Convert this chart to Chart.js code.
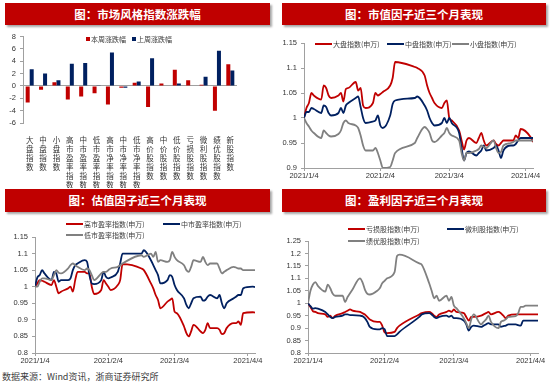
<!DOCTYPE html>
<html>
<head>
<meta charset="utf-8">
<script src="https://cdn.jsdelivr.net/npm/chart.js@4.4.1/dist/chart.umd.min.js"></script>
<style>
  body { margin: 0; width: 550px; height: 382px; background: #fff; position: relative; overflow: hidden; }
  .banner { position: absolute; height: 22px; background: #C00000; color: #fff; text-align: center;
            font: bold 11.5px 'Noto Sans CJK SC', sans-serif; line-height: 22px; box-shadow: 2px 2px 2px rgba(0,0,0,.35); }
  canvas { position: absolute; }
  .lg { position: absolute; height: 9px; display: flex; align-items: center; white-space: nowrap;
        font: 7px 'Noto Sans CJK SC', sans-serif; color: #404040; }
  .lg i { display: inline-block; margin-right: 1px; }
  .src { position: absolute; left: 2px; top: 370px; font: 9px 'Noto Sans CJK SC', sans-serif; color: #404040; }
</style>
</head>
<body>
<div class="banner" style="left:5px;top:3px;width:265px">图：市场风格指数涨跌幅</div>
<div class="banner" style="left:282px;top:3px;width:264px">图：市值因子近三个月表现</div>
<div class="banner" style="left:5px;top:189px;width:265px;height:23px">图：估值因子近三个月表现</div>
<div class="banner" style="left:282px;top:189px;width:264px;height:23px">图：盈利因子近三个月表现</div>

<canvas id="barChart" width="275" height="160" style="left:0;top:28px"></canvas>
<canvas id="capChart" width="275" height="155" style="left:275px;top:30px"></canvas>
<canvas id="peChart" width="275" height="155" style="left:0;top:215px"></canvas>
<canvas id="profitChart" width="275" height="155" style="left:275px;top:215px"></canvas>

<div class="src">数据来源：Wind资讯，浙商证券研究所</div>

<script>
// ── Data ────────────────────────────────────────────────────────────────
const styleNames = ['大盘指数', '中盘指数', '小盘指数', '高市盈率指数', '中市盈率指数', '低市盈率指数',
                    '高市净率指数', '中市净率指数', '低市净率指数', '高价股指数', '中价股指数', '低价股指数',
                    '亏损股指数', '微利股指数', '绩优股指数', '新股指数'];
const weekNames = ['本周涨跌幅', '上周涨跌幅'];
const thisWeek = [-2.7, -0.6, 0.6, -2.2, -1.7, -1.2, -3.0, -0.3, 0.5, -3.4, 0.4, 2.6, 0.9, 0.2, -4.0, 3.5];
const lastWeek = [2.7, 2.0, 0.9, 3.6, 3.7, 0.1, 5.4, -0.3, 0.7, 4.5, -0.1, 0.4, -0.1, 1.5, 5.7, 2.5];

// trading days, 2021
const tradeDates = ['1/4','1/5','1/6','1/7','1/8','1/11','1/12','1/13','1/14','1/15','1/18','1/19','1/20','1/21','1/22',
  '1/25','1/26','1/27','1/28','1/29','2/1','2/2','2/3','2/4','2/5','2/8','2/9','2/10','2/18','2/19',
  '2/22','2/23','2/24','2/25','2/26','3/1','3/2','3/3','3/4','3/5','3/8','3/9','3/10','3/11','3/12',
  '3/15','3/16','3/17','3/18','3/19','3/22','3/23','3/24','3/25','3/26','3/29','3/30','3/31','4/1','4/2','4/6','4/7'];
const tickDates = ['1/4', '2/4', '3/4', '4/4'];

const capNames = ['大盘指数(申万)', '中盘指数(申万)', '小盘指数(申万)'];
const bigCap = [1.000,1.02,1.03,1.05,1.045, 1.037,1.065,1.06,1.045,1.04, 1.045,1.05,1.033,1.058,1.06,
  1.072,1.055,1.06,1.025,1.02, 1.03,1.05,1.045,1.048,1.052, 1.065,1.08,1.112, 1.102,1.10,
  1.085,1.065,1.05,1.04,1.03, 1.02,1.03,1.035,1.0,0.995, 0.975,0.955,0.937,0.955,0.96,
  0.95,0.96,0.97,0.955,0.945, 0.955,0.948,0.945,0.95,0.955, 0.955,0.955,0.965, 0.96,0.978, 0.962,0.952];
const midCap = [1.0,1.012,1.012,1.02,1.018, 1.01,1.025,1.022,1.01,1.005, 1.01,1.02,1.01,1.025,1.03,
  1.04,1.043,1.022,1.0,0.99, 0.993,0.995,1.005,0.985,0.98, 1.005,1.028,1.035, 1.04,1.043,
  1.025,1.015,1.0,0.99,0.985, 0.99,1.0,0.99,1.0,0.99, 0.97,0.94,0.915,0.93,0.933,
  0.925,0.93,0.935,0.945,0.935, 0.94,0.945,0.935,0.92,0.935, 0.945,0.945,0.948, 0.955,0.96, 0.96,0.96];
const smallCap = [1.0,0.99,0.983,0.975,0.97, 0.96,0.975,0.97,0.965,0.963, 0.968,0.975,0.99,0.995,0.99,
  0.985,0.98,0.965,0.945,0.935, 0.935,0.94,0.93,0.915,0.9, 0.902,0.915,0.93, 0.95,0.96,
  0.982,0.978,0.97,0.955,0.952, 0.965,0.97,0.98,0.97,0.965, 0.955,0.93,0.915,0.93,0.93,
  0.935,0.938,0.945,0.942,0.94, 0.955,0.94,0.93,0.932,0.945, 0.95,0.952,0.955, 0.955,0.955, 0.955,0.955];

const peNames = ['高市盈率指数(申万)', '中市盈率指数(申万)', '低市盈率指数(申万)'];
const highPE = [1.0,1.01,1.02,1.018,1.015, 1.005,1.02,1.0,0.98,0.985, 0.995,1.0,0.985,1.02,1.045,
  1.045,1.04,1.04,1.0,0.978, 0.99,1.02,1.01,1.0,0.99, 1.005,1.02,1.068, 1.055,1.05,
  1.01,0.995,0.975,0.96,0.935, 0.955,0.96,0.965,0.925,0.92, 0.88,0.86,0.85,0.865,0.885,
  0.865,0.86,0.87,0.89,0.875, 0.875,0.87,0.857,0.86,0.875, 0.89,0.89,0.895, 0.885,0.92, 0.923,0.922];
const midPE = [1.0,1.028,1.035,1.05,1.04, 1.02,1.045,1.04,1.015,1.02, 1.02,1.025,1.05,1.065,1.07,
  1.08,1.075,1.035,1.01,1.008, 1.02,1.045,1.03,1.025,1.028, 1.045,1.07,1.1, 1.1,1.11,
  1.08,1.065,1.05,1.035,1.01, 1.02,1.035,1.03,1.005,0.99, 0.965,0.945,0.935,0.95,0.965,
  0.97,0.958,0.96,0.97,0.975, 0.965,0.975,0.95,0.935,0.95, 0.965,0.97,0.975, 0.975,0.995, 1.0,0.999];
const lowPE = [1.0,1.0,1.015,1.025,1.025, 1.02,1.035,1.05,1.042,1.04, 1.055,1.065,1.07,1.065,1.06,
  1.05,1.055,1.05,1.035,1.02, 1.04,1.045,1.045,1.05,1.055, 1.06,1.065,1.07, 1.095,1.09,
  1.1,1.09,1.105,1.075,1.08, 1.075,1.08,1.105,1.09,1.08, 1.065,1.05,1.045,1.06,1.08,
  1.075,1.09,1.075,1.065,1.07, 1.07,1.055,1.04,1.045,1.05, 1.06,1.058,1.055, 1.055,1.05, 1.05,1.05];

const profitNames = ['亏损股指数(申万)', '微利股指数(申万)', '绩优股指数(申万)'];
const lossIdx = [1.0,0.985,0.968,0.965,0.96, 0.955,0.945,0.95,0.94,0.95, 0.96,0.965,0.97,0.975,0.97,
  0.965,0.96,0.955,0.945,0.935, 0.925,0.925,0.91,0.882,0.88, 0.885,0.9,0.91, 0.955,0.96,
  0.965,0.96,0.95,0.945,0.955, 0.965,0.97,0.965,0.975,0.965, 0.96,0.945,0.93,0.945,0.945,
  0.95,0.955,0.96,0.965,0.955, 0.965,0.96,0.95,0.94,0.95, 0.955,0.955,0.955, 0.955,0.955, 0.955,0.955];
const microIdx = [1.0,0.988,0.978,0.98,0.978, 0.965,0.955,0.945,0.94,0.945, 0.95,0.955,0.955,0.952,0.952,
  0.95,0.948,0.94,0.925,0.905, 0.895,0.895,0.9,0.895,0.868, 0.868,0.875,0.885, 0.945,0.955,
  0.96,0.955,0.945,0.94,0.945, 0.95,0.945,0.95,0.94,0.94, 0.93,0.915,0.89,0.905,0.91,
  0.905,0.91,0.915,0.92,0.915, 0.915,0.905,0.908,0.91,0.915, 0.915,0.912,0.91, 0.93,0.93, 0.93,0.93];
const perfIdx = [1.0,1.05,1.075,1.085,1.07, 1.047,1.075,1.06,1.038,1.03, 1.03,1.005,1.025,1.04,1.055,
  1.1,1.085,1.055,1.038,1.035, 1.05,1.06,1.08,1.09,1.1, 1.125,1.19,1.195, 1.16,1.155,
  1.08,1.05,1.02,1.03,1.01, 1.03,1.01,1.025,0.99,0.98, 0.94,0.92,0.9,0.935,0.955,
  0.915,0.925,0.935,0.95,0.925, 0.9,0.925,0.93,0.935,0.945, 0.948,0.96,0.985, 0.985,0.99, 0.99,0.99];

// ── Helpers ─────────────────────────────────────────────────────────────
const RED = '#C00000', NAVY = '#002060', GREY = '#808080', AXIS = '#A0A0A0';

function dayOf(md) {
    const [m, d] = md.split('/').map(Number);
    return Math.round((Date.UTC(2021, m - 1, d) - Date.UTC(2021, 0, 4)) / 864e5);
}
const dayOffsets = tradeDates.map(dayOf);
const tickDays = tickDates.map(dayOf);
const tickLabels = tickDates.map(d => '2021/' + d);
const lastDay = dayOffsets[dayOffsets.length - 1];

Chart.defaults.font.family = "'Liberation Sans', 'Noto Sans CJK SC', sans-serif";
Chart.defaults.font.size = 7.5;
Chart.defaults.color = '#333';

function addLegend(items) {
    items.forEach(([left, top, color, text, kind]) => {
        const div = document.createElement('div');
        div.className = 'lg';
        div.style.left = left + 'px';
        div.style.top = (top - 4.5) + 'px';
        const sw = document.createElement('i');
        sw.style.background = color;
        if (kind === 'box') { sw.style.width = '3.5px'; sw.style.height = '3.5px'; sw.style.marginRight = '1.5px'; }
        else { sw.style.width = '17px'; sw.style.height = '2px'; }
        div.appendChild(sw);
        div.appendChild(document.createTextNode(text));
        document.body.appendChild(div);
    });
}

// ── Chart 1: 市场风格指数涨跌幅 ─────────────────────────────────────────
new Chart(document.getElementById('barChart'), {
    type: 'bar',
    data: {
        labels: styleNames.map(s => s.split('')),
        datasets: [
            { label: weekNames[0], data: thisWeek, backgroundColor: RED, categoryPercentage: 0.6, barPercentage: 1 },
            { label: weekNames[1], data: lastWeek, backgroundColor: NAVY, categoryPercentage: 0.6, barPercentage: 1 }
        ]
    },
    options: {
        responsive: false,
        animation: false,
        layout: { padding: { top: 8, right: 38, left: 0, bottom: 0 } },
        plugins: { legend: { display: false }, tooltip: { enabled: false } },
        scales: {
            x: {
                grid: { display: false }, border: { display: false },
                ticks: { font: { family: "'Noto Sans CJK SC', sans-serif", size: 7.5, lineHeight: 1.18 },
                         maxRotation: 0, autoSkip: false, padding: 5 },
                afterFit: s => { s.height = 65; }
            },
            y: {
                min: -6, max: 8,
                ticks: { stepSize: 2, padding: 4 },
                grid: { color: c => c.tick && c.tick.value === 0 ? AXIS : 'transparent', tickColor: AXIS, tickLength: 3 },
                border: { color: AXIS },
                afterFit: s => { s.width = 23; }
            }
        }
    }
});
addLegend([[86, 39, RED, weekNames[0], 'box'], [132, 39, NAVY, weekNames[1], 'box']]);

// ── Line charts ─────────────────────────────────────────────────────────
function lineChart(id, names, series, yMin, yMax, pad, yWidth) {
    const colors = [RED, NAVY, GREY];
    return new Chart(document.getElementById(id), {
        type: 'line',
        data: {
            datasets: series.map((vals, i) => ({
                label: names[i],
                data: vals.map((v, j) => ({ x: dayOffsets[j], y: v })),
                borderColor: colors[i], borderWidth: 1.8, pointRadius: 0,
                cubicInterpolationMode: 'monotone', order: -i
            }))
        },
        options: {
            responsive: false,
            animation: false,
            layout: { padding: pad },
            plugins: { legend: { display: false }, tooltip: { enabled: false } },
            scales: {
                x: {
                    type: 'linear', min: 0, max: lastDay,
                    afterBuildTicks: s => { s.ticks = tickDays.map(v => ({ value: v })); },
                    ticks: { callback: v => tickLabels[tickDays.indexOf(v)], maxRotation: 0, autoSkip: false, padding: 0 },
                    grid: { drawOnChartArea: false, tickColor: AXIS, tickLength: 3 },
                    border: { color: AXIS },
                    afterFit: s => { s.height = 17; }
                },
                y: {
                    min: yMin, max: yMax,
                    ticks: { stepSize: 0.05, padding: 4, callback: v => String(+v.toFixed(2)) },
                    grid: { drawOnChartArea: false, tickColor: AXIS, tickLength: 3 },
                    border: { color: AXIS },
                    afterFit: s => { s.width = yWidth; }
                }
            }
        }
    });
}

lineChart('capChart', capNames, [bigCap, midCap, smallCap], 0.9, 1.15, { top: 13, right: 17, left: 0, bottom: 0 }, 29);
addLegend([[315, 44, RED, capNames[0]], [387, 44, NAVY, capNames[1]], [452, 44, GREY, capNames[2]]]);

lineChart('peChart', peNames, [highPE, midPE, lowPE], 0.8, 1.15, { top: 22, right: 20, left: 0, bottom: 0 }, 35);
addLegend([[66, 224, RED, peNames[0]], [163, 224, NAVY, peNames[1]], [66, 235, GREY, peNames[2]]]);

lineChart('profitChart', profitNames, [lossIdx, microIdx, perfIdx], 0.8, 1.25, { top: 26, right: 12, left: 0, bottom: 0 }, 33);
addLegend([[348, 229, RED, profitNames[0]], [447, 229, NAVY, profitNames[1]], [348, 241, GREY, profitNames[2]]]);
</script>
</body>
</html>
